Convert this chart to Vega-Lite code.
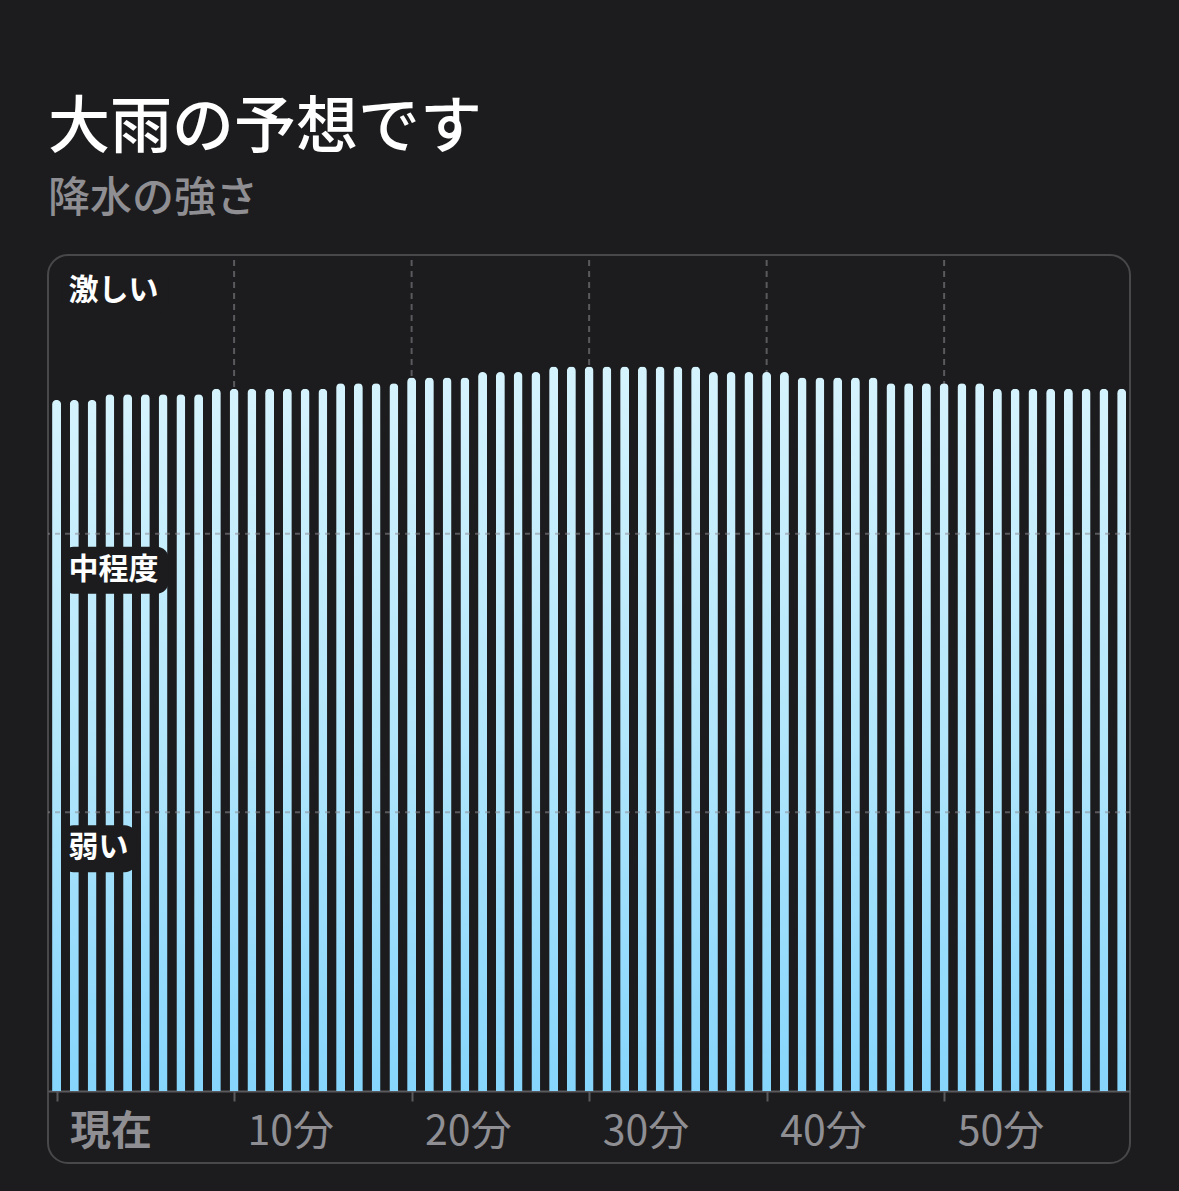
{
  "$schema": "https://vega.github.io/schema/vega-lite/v6.json",
  "width": 1082,
  "height": 908,
  "autosize": {"type": "none"},
  "padding": {"left": 48, "top": 255, "right": 49, "bottom": 28},
  "background": "#1c1c1e",
  "title": {
    "text": "大雨の予想です",
    "subtitle": "降水の強さ",
    "anchor": "start",
    "frame": "group",
    "offset": 33,
    "font": "Noto Sans CJK JP",
    "fontSize": 62,
    "fontWeight": 500,
    "color": "#ffffff",
    "subtitleFont": "Noto Sans CJK JP",
    "subtitleFontSize": 42,
    "subtitleFontWeight": 500,
    "subtitleColor": "#8e8e93",
    "subtitlePadding": 18
  },
  "config": {
    "view": {"stroke": "#48484a", "strokeWidth": 2, "cornerRadius": 20},
    "font": "Noto Sans CJK JP"
  },
  "datasets": {
    "rain": [
      {"minute": 0, "intensity": 2.48}, {"minute": 1, "intensity": 2.48}, {"minute": 2, "intensity": 2.48},
      {"minute": 3, "intensity": 2.50}, {"minute": 4, "intensity": 2.50}, {"minute": 5, "intensity": 2.50},
      {"minute": 6, "intensity": 2.50}, {"minute": 7, "intensity": 2.50}, {"minute": 8, "intensity": 2.50},
      {"minute": 9, "intensity": 2.52}, {"minute": 10, "intensity": 2.52}, {"minute": 11, "intensity": 2.52},
      {"minute": 12, "intensity": 2.52}, {"minute": 13, "intensity": 2.52}, {"minute": 14, "intensity": 2.52},
      {"minute": 15, "intensity": 2.52}, {"minute": 16, "intensity": 2.54}, {"minute": 17, "intensity": 2.54},
      {"minute": 18, "intensity": 2.54}, {"minute": 19, "intensity": 2.54}, {"minute": 20, "intensity": 2.56},
      {"minute": 21, "intensity": 2.56}, {"minute": 22, "intensity": 2.56}, {"minute": 23, "intensity": 2.56},
      {"minute": 24, "intensity": 2.58}, {"minute": 25, "intensity": 2.58}, {"minute": 26, "intensity": 2.58},
      {"minute": 27, "intensity": 2.58}, {"minute": 28, "intensity": 2.60}, {"minute": 29, "intensity": 2.60},
      {"minute": 30, "intensity": 2.60}, {"minute": 31, "intensity": 2.60}, {"minute": 32, "intensity": 2.60},
      {"minute": 33, "intensity": 2.60}, {"minute": 34, "intensity": 2.60}, {"minute": 35, "intensity": 2.60},
      {"minute": 36, "intensity": 2.60}, {"minute": 37, "intensity": 2.58}, {"minute": 38, "intensity": 2.58},
      {"minute": 39, "intensity": 2.58}, {"minute": 40, "intensity": 2.58}, {"minute": 41, "intensity": 2.58},
      {"minute": 42, "intensity": 2.56}, {"minute": 43, "intensity": 2.56}, {"minute": 44, "intensity": 2.56},
      {"minute": 45, "intensity": 2.56}, {"minute": 46, "intensity": 2.56}, {"minute": 47, "intensity": 2.54},
      {"minute": 48, "intensity": 2.54}, {"minute": 49, "intensity": 2.54}, {"minute": 50, "intensity": 2.54},
      {"minute": 51, "intensity": 2.54}, {"minute": 52, "intensity": 2.54}, {"minute": 53, "intensity": 2.52},
      {"minute": 54, "intensity": 2.52}, {"minute": 55, "intensity": 2.52}, {"minute": 56, "intensity": 2.52},
      {"minute": 57, "intensity": 2.52}, {"minute": 58, "intensity": 2.52}, {"minute": 59, "intensity": 2.52},
      {"minute": 60, "intensity": 2.52}
    ],
    "gridx": [{"minute": 10}, {"minute": 20}, {"minute": 30}, {"minute": 40}, {"minute": 50}],
    "gridy": [{"level": 1}, {"level": 2}],
    "levels": [
      {"level": 3, "label": "激しい"},
      {"level": 2, "label": "中程度"},
      {"level": 1, "label": "弱い"}
    ]
  },
  "layer": [
    {
      "data": {"name": "gridx"},
      "mark": {"type": "rule", "color": "#5a5a5e", "strokeWidth": 2, "strokeDash": [6, 5]},
      "encoding": {
        "x": {
          "field": "minute", "type": "quantitative",
          "scale": {"domain": [-0.4845, 60.47], "nice": false, "zero": false, "padding": 0},
          "axis": {
            "values": [0, 10, 20, 30, 40, 50],
            "labelExpr": "datum.value == 0 ? '現在' : datum.value + '分'",
            "title": null, "grid": false, "offset": -72,
            "domainColor": "#5a5a5e", "domainWidth": 2,
            "tickColor": "#5a5a5e", "tickWidth": 2, "tickSize": 10,
            "labelColor": "#8e8e93", "labelFontSize": 41, "labelFont": "Noto Sans CJK JP",
            "labelAlign": "left", "labelOffset": 13, "labelPadding": 31, "labelBaseline": "middle",
            "labelFontWeight": {"condition": {"test": "datum.value == 0", "value": "bold"}, "value": "normal"},
            "labelFlush": false, "labelOverlap": false
          }
        },
        "y": {"datum": 0, "type": "quantitative", "scale": {"domain": [-0.2584, 3], "nice": false, "zero": false}, "axis": null},
        "y2": {"datum": 3}
      }
    },
    {
      "data": {"name": "rain"},
      "mark": {
        "type": "bar", "width": 9,
        "cornerRadiusTopLeft": 4.5, "cornerRadiusTopRight": 4.5,
        "color": {
          "gradient": "linear", "x1": 0, "y1": 0, "x2": 0, "y2": 1,
          "stops": [
            {"offset": 0, "color": "#d5f3fd"},
            {"offset": 0.5, "color": "#b2e6fb"},
            {"offset": 1, "color": "#86d5fc"}
          ]
        }
      },
      "encoding": {
        "x": {
          "field": "minute", "type": "quantitative",
          "scale": {"domain": [-0.4845, 60.47], "nice": false, "zero": false, "padding": 0},
          "axis": {
            "values": [0, 10, 20, 30, 40, 50],
            "labelExpr": "datum.value == 0 ? '現在' : datum.value + '分'",
            "title": null, "grid": false, "offset": -72,
            "domainColor": "#5a5a5e", "domainWidth": 2,
            "tickColor": "#5a5a5e", "tickWidth": 2, "tickSize": 10,
            "labelColor": "#8e8e93", "labelFontSize": 41, "labelFont": "Noto Sans CJK JP",
            "labelAlign": "left", "labelOffset": 13, "labelPadding": 31, "labelBaseline": "middle",
            "labelFontWeight": {"condition": {"test": "datum.value == 0", "value": "bold"}, "value": "normal"},
            "labelFlush": false, "labelOverlap": false
          }
        },
        "y": {"field": "intensity", "type": "quantitative", "scale": {"domain": [-0.2584, 3], "nice": false, "zero": false}, "axis": null}
      }
    },
    {
      "data": {"name": "gridy"},
      "mark": {"type": "rule", "color": "#8e8e93", "opacity": 0.55, "strokeWidth": 2, "strokeDash": [5, 5]},
      "encoding": {
        "y": {"field": "level", "type": "quantitative", "axis": null}
      }
    },
    {
      "data": {"name": "levels"},
      "mark": {"type": "point", "filled": true, "size": 4, "opacity": 1, "strokeWidth": 0, "color": "#1c1c1e"},
      "encoding": {
        "x": {"datum": 0, "type": "quantitative"},
        "y": {"field": "level", "type": "quantitative", "axis": null},
        "shape": {
          "field": "label", "type": "nominal", "legend": null,
          "scale": {
            "domain": ["激しい", "中程度", "弱い"],
            "range": [
              "M17,13L100,13A12,12,0,0,1,112,25L112,48A12,12,0,0,1,100,60L17,60A12,12,0,0,1,5,48L5,25A12,12,0,0,1,17,13Z",
              "M17,13L100,13A12,12,0,0,1,112,25L112,48A12,12,0,0,1,100,60L17,60A12,12,0,0,1,5,48L5,25A12,12,0,0,1,17,13Z",
              "M17,13L68,13A12,12,0,0,1,80,25L80,48A12,12,0,0,1,68,60L17,60A12,12,0,0,1,5,48L5,25A12,12,0,0,1,17,13Z"
            ]
          }
        }
      }
    },
    {
      "data": {"name": "levels"},
      "mark": {"type": "text", "align": "left", "baseline": "middle", "dx": 12, "dy": 36, "fontSize": 30, "fontWeight": "bold", "color": "#ffffff", "font": "Noto Sans CJK JP"},
      "encoding": {
        "x": {"datum": 0, "type": "quantitative"},
        "y": {"field": "level", "type": "quantitative", "axis": null},
        "text": {"field": "label", "type": "nominal"}
      }
    }
  ]
}
